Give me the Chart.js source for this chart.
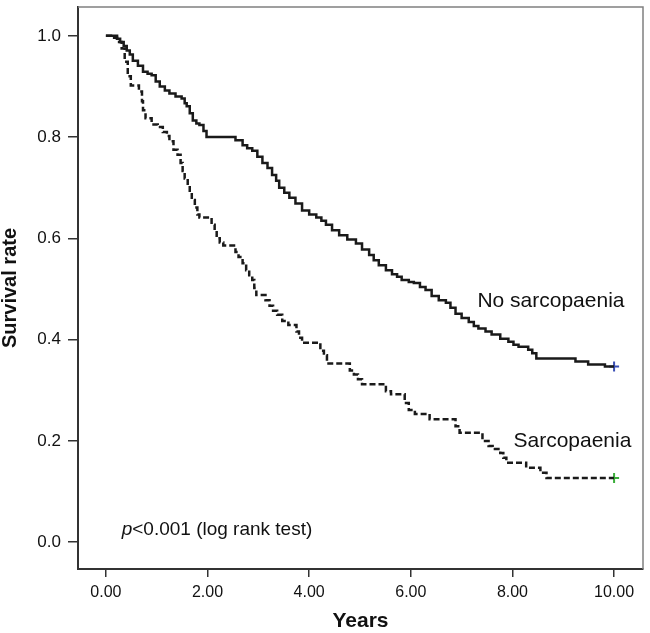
<!DOCTYPE html>
<html>
<head>
<meta charset="utf-8">
<script src="https://cdn.jsdelivr.net/npm/chart.js@4/dist/chart.umd.min.js"></script>
<style>
  html, body { margin: 0; padding: 0; background: #fff; }
  #km { display: block; }
</style>
</head>
<body>
<canvas id="km" width="650" height="633"></canvas>
<script>
  // Kaplan-Meier steps (time in years, survival after each drop)
  const noSarcTimes = [0, 0.22, 0.28, 0.35, 0.41, 0.47, 0.53, 0.63, 0.73, 0.82, 0.90, 0.98, 1.06, 1.16, 1.25, 1.37, 1.49, 1.55, 1.59, 1.65, 1.71, 1.78, 1.84, 1.92, 1.98, 2.55, 2.69, 2.78, 2.88, 2.98, 3.08, 3.18, 3.27, 3.35, 3.41, 3.51, 3.61, 3.73, 3.86, 4.00, 4.14, 4.24, 4.33, 4.45, 4.59, 4.75, 4.92, 5.04, 5.18, 5.27, 5.37, 5.51, 5.63, 5.73, 5.82, 5.96, 6.06, 6.18, 6.29, 6.41, 6.55, 6.69, 6.78, 6.88, 7.00, 7.14, 7.24, 7.33, 7.47, 7.59, 7.76, 7.92, 8.02, 8.12, 8.31, 8.39, 8.47, 9.24, 9.49, 9.82, 10.0];
  const noSarcSurv = [1.0, 0.994, 0.988, 0.980, 0.971, 0.963, 0.951, 0.941, 0.929, 0.925, 0.922, 0.910, 0.900, 0.892, 0.886, 0.880, 0.876, 0.867, 0.861, 0.847, 0.833, 0.827, 0.824, 0.812, 0.800, 0.794, 0.784, 0.778, 0.773, 0.761, 0.749, 0.739, 0.725, 0.714, 0.700, 0.690, 0.680, 0.669, 0.655, 0.647, 0.641, 0.635, 0.627, 0.616, 0.606, 0.598, 0.590, 0.578, 0.567, 0.557, 0.547, 0.537, 0.529, 0.524, 0.518, 0.514, 0.512, 0.504, 0.498, 0.486, 0.478, 0.473, 0.463, 0.451, 0.443, 0.435, 0.427, 0.422, 0.416, 0.410, 0.402, 0.396, 0.390, 0.386, 0.380, 0.373, 0.363, 0.357, 0.351, 0.347, 0.347];

  const sarcTimes = [0, 0.10, 0.22, 0.31, 0.37, 0.43, 0.49, 0.65, 0.71, 0.73, 0.78, 0.90, 1.02, 1.12, 1.20, 1.25, 1.33, 1.41, 1.47, 1.51, 1.55, 1.61, 1.65, 1.69, 1.75, 1.80, 1.84, 2.08, 2.14, 2.18, 2.24, 2.31, 2.55, 2.61, 2.69, 2.76, 2.82, 2.88, 2.92, 2.96, 3.14, 3.22, 3.29, 3.37, 3.47, 3.59, 3.75, 3.80, 3.86, 4.22, 4.29, 4.35, 4.80, 4.88, 4.96, 5.04, 5.51, 5.61, 5.88, 5.96, 6.08, 6.37, 6.88, 6.96, 7.41, 7.53, 7.61, 7.76, 7.82, 7.88, 8.27, 8.55, 8.67, 10.0];
  const sarcSurv = [1.0, 0.996, 0.988, 0.975, 0.949, 0.920, 0.902, 0.890, 0.871, 0.853, 0.837, 0.825, 0.820, 0.810, 0.802, 0.792, 0.775, 0.765, 0.749, 0.733, 0.718, 0.704, 0.690, 0.676, 0.661, 0.647, 0.641, 0.627, 0.616, 0.600, 0.592, 0.586, 0.573, 0.563, 0.551, 0.537, 0.527, 0.518, 0.502, 0.488, 0.478, 0.467, 0.457, 0.449, 0.437, 0.429, 0.416, 0.404, 0.394, 0.378, 0.369, 0.353, 0.339, 0.331, 0.322, 0.312, 0.298, 0.292, 0.275, 0.261, 0.253, 0.243, 0.229, 0.216, 0.200, 0.190, 0.184, 0.176, 0.167, 0.157, 0.147, 0.137, 0.127, 0.127];

  // censored at end of follow-up
  const censorTime = [10.0];
  const noSarcCensor = [0.347];
  const sarcCensor = [0.127];

  const xTicks = [0, 2, 4, 6, 8, 10];
  const yTicks = [0, 0.2, 0.4, 0.6, 0.8, 1.0];

  const INK = "#1a1a1a";
  const FONT = "'Liberation Sans', Arial, sans-serif";

  function toPoints(xs, ys) {
    return xs.map((x, i) => ({ x: x, y: ys[i] }));
  }

  // frame on top/right plus the in-plot annotations
  const framePlugin = {
    id: "frame",
    afterDraw(chart) {
      const { ctx, chartArea: a, scales } = chart;
      ctx.save();
      ctx.strokeStyle = "#808080";
      ctx.lineWidth = 1.5;
      ctx.beginPath();
      ctx.moveTo(a.left, a.top);
      ctx.lineTo(a.right, a.top);
      ctx.lineTo(a.right, a.bottom);
      ctx.stroke();

      const px = (v) => scales.x.getPixelForValue(v);
      const py = (v) => scales.y.getPixelForValue(v);
      ctx.fillStyle = "#111";
      ctx.textBaseline = "middle";
      ctx.textAlign = "left";
      ctx.font = "21px " + FONT;
      ctx.fillText("No sarcopaenia", px(7.31), py(0.475));
      ctx.fillText("Sarcopaenia", px(8.02), py(0.2));

      ctx.font = "italic 19px " + FONT;
      const x0 = px(0.31);
      ctx.fillText("p", x0, py(0.025));
      const w = ctx.measureText("p").width;
      ctx.font = "19px " + FONT;
      ctx.fillText("<0.001 (log rank test)", x0 + w, py(0.025));
      ctx.restore();
    },
  };

  new Chart(document.getElementById("km"), {
    type: "scatter",
    data: {
      datasets: [
        {
          label: "No sarcopaenia",
          data: toPoints(noSarcTimes, noSarcSurv),
          showLine: true,
          stepped: true,
          borderColor: INK,
          borderWidth: 2.5,
          pointRadius: 0,
        },
        {
          label: "Sarcopaenia",
          data: toPoints(sarcTimes, sarcSurv),
          showLine: true,
          stepped: true,
          borderColor: INK,
          borderWidth: 2.5,
          borderDash: [6, 3],
          pointRadius: 0,
        },
        {
          label: "No sarcopaenia-censored",
          data: toPoints(censorTime, noSarcCensor),
          pointStyle: "cross",
          pointRadius: 5,
          borderWidth: 2,
          borderColor: "#3a4fb5",
        },
        {
          label: "Sarcopaenia-censored",
          data: toPoints(censorTime, sarcCensor),
          pointStyle: "cross",
          pointRadius: 5,
          borderWidth: 2,
          borderColor: "#3aae3a",
        },
      ],
    },
    options: {
      responsive: false,
      animation: false,
      layout: { padding: { top: 3, right: 5, left: 0, bottom: 0 } },
      plugins: { legend: { display: false }, tooltip: { enabled: false } },
      scales: {
        x: {
          type: "linear",
          min: -0.549,
          max: 10.569,
          afterFit(scale) {
            scale.height = 64;
            scale.paddingLeft = 0;
            scale.paddingRight = 0;
          },
          afterBuildTicks(scale) { scale.ticks = xTicks.map((v) => ({ value: v })); },
          border: { display: true, color: "#333", width: 2 },
          grid: { drawOnChartArea: false, drawTicks: true, tickLength: 8, color: "#333", lineWidth: 1.5 },
          ticks: {
            color: "#111",
            padding: 6,
            maxRotation: 0,
            font: { family: FONT, size: 16 },
            callback: (v) => v.toFixed(2),
          },
          title: {
            display: true,
            text: "Years",
            color: "#111",
            padding: { top: 0, bottom: 1 },
            font: { family: FONT, size: 21, weight: "bold", lineHeight: 1 },
          },
        },
        y: {
          type: "linear",
          min: -0.0529,
          max: 1.0569,
          afterFit(scale) {
            scale.width = 78;
            scale.paddingTop = 0;
            scale.paddingBottom = 0;
          },
          afterBuildTicks(scale) { scale.ticks = yTicks.map((v) => ({ value: v })); },
          border: { display: true, color: "#333", width: 2 },
          grid: { drawOnChartArea: false, drawTicks: true, tickLength: 10, color: "#333", lineWidth: 1.5 },
          ticks: {
            color: "#111",
            padding: 7,
            font: { family: FONT, size: 17 },
            callback: (v) => v.toFixed(1),
          },
          title: {
            display: true,
            text: "Survival rate",
            color: "#111",
            padding: { top: 0, bottom: 0 },
            font: { family: FONT, size: 20, weight: "bold", lineHeight: 1 },
          },
        },
      },
    },
    plugins: [framePlugin],
  });
</script>
</body>
</html>
